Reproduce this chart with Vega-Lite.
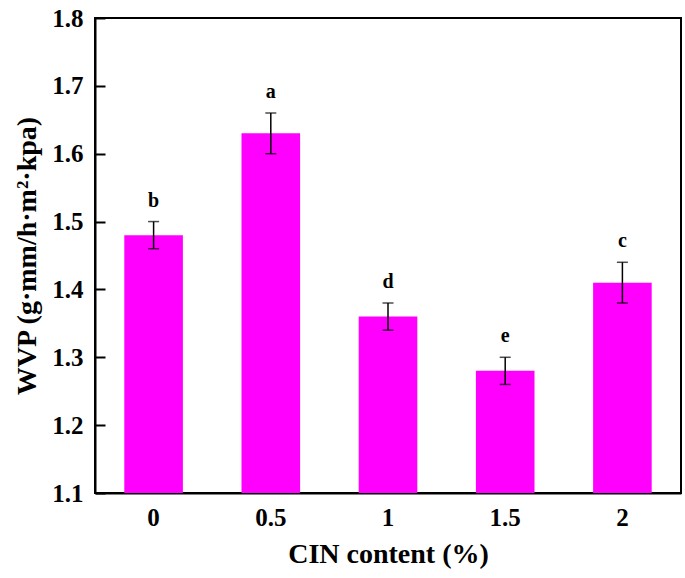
{
  "$schema": "https://vega.github.io/schema/vega-lite/v6.json",
  "width": 586,
  "height": 475,
  "autosize": "none",
  "padding": {"left": 95, "top": 18, "right": 4, "bottom": 85},
  "background": "white",
  "config": {
    "view": {"stroke": "black", "strokeWidth": 2},
    "font": "Liberation Serif"
  },
  "data": {
    "values": [
      {"cin": "0", "wvp": 1.48, "lo": 1.46, "hi": 1.50, "sig": "b"},
      {"cin": "0.5", "wvp": 1.63, "lo": 1.60, "hi": 1.66, "sig": "a"},
      {"cin": "1", "wvp": 1.36, "lo": 1.34, "hi": 1.38, "sig": "d"},
      {"cin": "1.5", "wvp": 1.28, "lo": 1.26, "hi": 1.30, "sig": "e"},
      {"cin": "2", "wvp": 1.41, "lo": 1.38, "hi": 1.44, "sig": "c"}
    ]
  },
  "encoding": {
    "x": {
      "field": "cin", "type": "ordinal", "sort": null,
      "scale": {"paddingInner": 0.5, "paddingOuter": 0.25},
      "axis": {
        "title": "CIN content (%)", "labelAngle": 0,
        "labelFont": "Liberation Serif", "labelFontSize": 25, "labelFontWeight": "bold", "labelColor": "black",
        "titleFont": "Liberation Serif", "titleFontSize": 28, "titleFontWeight": "bold", "titleColor": "black",
        "ticks": false, "labelPadding": 12, "titlePadding": 10,
        "domainColor": "black", "domainWidth": 2
      }
    }
  },
  "layer": [
    {
      "mark": {"type": "bar", "color": "#FF00FF"},
      "encoding": {
        "y": {
          "field": "wvp", "type": "quantitative",
          "scale": {"domain": [1.1, 1.8], "zero": false, "nice": false},
          "axis": {
            "title": "WVP (g·mm/h·m²·kpa)",
            "values": [1.1, 1.2, 1.3, 1.4, 1.5, 1.6, 1.7, 1.8],
            "format": ".1f", "grid": false,
            "labelFont": "Liberation Serif", "labelFontSize": 25, "labelFontWeight": "bold", "labelColor": "black",
            "titleFont": "Liberation Serif", "titleFontSize": 28, "titleFontWeight": "bold", "titleColor": "black",
            "tickSize": -10, "tickWidth": 2, "tickColor": "black", "labelPadding": 22, "titlePadding": 10,
            "domainColor": "black", "domainWidth": 2
          }
        },
        "y2": {"datum": 1.1}
      }
    },
    {
      "mark": {"type": "rule", "color": "black", "strokeWidth": 1.5},
      "encoding": {
        "y": {"field": "lo", "type": "quantitative"},
        "y2": {"field": "hi"}
      }
    },
    {
      "mark": {"type": "tick", "color": "black", "orient": "horizontal", "size": 11, "thickness": 1.5},
      "encoding": {"y": {"field": "lo", "type": "quantitative"}}
    },
    {
      "mark": {"type": "tick", "color": "black", "orient": "horizontal", "size": 11, "thickness": 1.5},
      "encoding": {"y": {"field": "hi", "type": "quantitative"}}
    },
    {
      "mark": {"type": "text", "font": "Liberation Serif", "fontSize": 20, "fontWeight": "bold", "color": "black", "baseline": "bottom", "dy": -11},
      "encoding": {
        "y": {"field": "hi", "type": "quantitative"},
        "text": {"field": "sig"}
      }
    }
  ]
}
